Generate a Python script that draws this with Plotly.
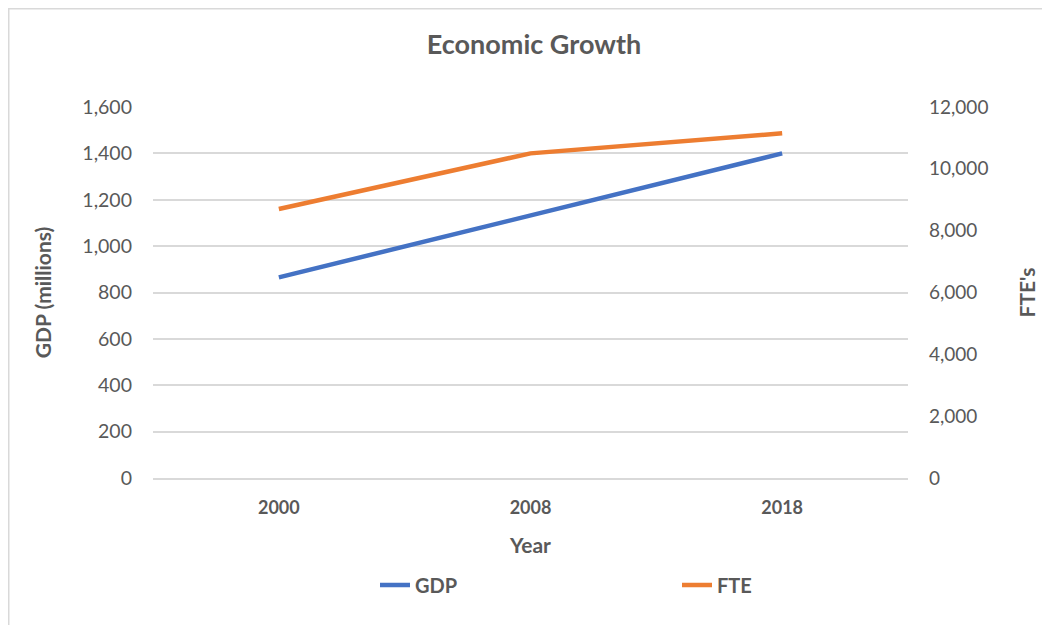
import plotly.graph_objects as go

years = ["2000", "2008", "2018"]
gdp = [865, 1130, 1400]
fte = [8700, 10500, 11150]

left_ticks = list(range(0, 1601, 200))
right_ticks = list(range(0, 12001, 2000))

GRAY = "#595959"
FONT = "Lato, Open Sans, sans-serif"

fig = go.Figure()
fig.add_trace(go.Scatter(x=years, y=gdp, name="GDP", mode="lines",
                         line=dict(color="#4472C4", width=4.5), yaxis="y"))
fig.add_trace(go.Scatter(x=years, y=fte, name="FTE", mode="lines",
                         line=dict(color="#ED7D31", width=4.5), yaxis="y2"))

# page body has an 8px margin: work in reference-screen coordinates
O = 8
W, H = 1050, 625
L = 153 - O
T = 107 - O
R = W - (908 - O)
B = H - (478 - O)
pw, ph = W - L - R, H - T - B

def px(x):
    return (x - O - L) / pw

def py(y):
    return (H - B - (y - O)) / ph

fig.update_layout(
    width=W, height=H,
    margin=dict(l=L, r=R, t=T, b=B),
    paper_bgcolor="white", plot_bgcolor="white",
    font=dict(family=FONT, color=GRAY, size=19),
    title=dict(text="<b>Economic Growth</b>", x=px(534), xanchor="center",
               xref="paper", y=1 - (45 - O) / H, yanchor="middle",
               font=dict(size=27, color=GRAY, family=FONT)),
    xaxis=dict(type="category", range=[-0.5, 2.5], showgrid=False,
               showline=True, linecolor="#D9D9D9", linewidth=1.5,
               ticks="", tickfont=dict(size=18, color=GRAY),
               ticklabelstandoff=13,
               tickprefix="<b>", ticksuffix="</b>",
               title=dict(text="<b>Year</b>", font=dict(size=21, color=GRAY), standoff=21)),
    yaxis=dict(range=[0, 1600], tickvals=left_ticks, tickformat=",d",
               showgrid=True, gridcolor="#D9D9D9", gridwidth=1.5,
               zeroline=False, showline=False, ticks="",
               ticklabelstandoff=20,
               tickfont=dict(size=19.5, color=GRAY),
               title=dict(text="<b>GDP (millions)</b>", font=dict(size=21, color=GRAY), standoff=24)),
    yaxis2=dict(range=[0, 12000], tickvals=right_ticks, tickformat=",d",
                overlaying="y", side="right", showgrid=False, zeroline=False,
                showline=False, ticks="", ticklabelstandoff=20,
                tickfont=dict(size=19, color=GRAY),
                title=dict(text="<b>FTE's</b>", font=dict(size=21, color=GRAY), standoff=32)),
    legend=dict(orientation="h", x=px(375), xanchor="left", y=py(585), yanchor="middle",
                font=dict(size=20, color=GRAY, family=FONT),
                entrywidth=257, entrywidthmode="pixels",
                bgcolor="rgba(0,0,0,0)", itemwidth=30),
    shapes=[dict(type="rect", xref="paper", yref="paper",
                 x0=px(8.75), x1=px(1049), y0=py(640), y1=py(8.75),
                 line=dict(color="#D9D9D9", width=1.5), fillcolor="rgba(0,0,0,0)", layer="below")],
)
for tr in fig.data:
    tr.name = "<b>" + tr.name + "</b>"

fig.write_html("out.html")
